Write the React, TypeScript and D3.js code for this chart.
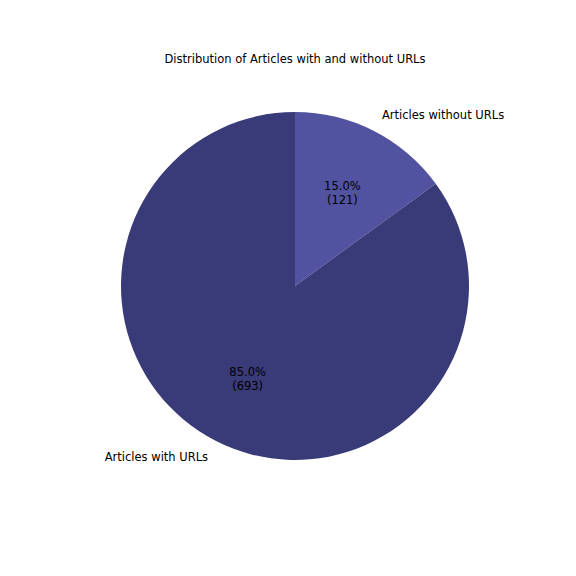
import * as d3 from 'd3';

const categories = ['Articles without URLs', 'Articles with URLs'];
const percents = [15.0, 85.0];
const counts = [121, 693];
const colors = ['#5152a0', '#393a78'];

export default function App() {
  const W = 576, H = 576;
  const cx = 295, cy = 286, r = 174;
  const pie = d3.pie<number>().sort(null).startAngle(0).endAngle(2 * Math.PI);
  const arcs = pie(percents);
  const arc = d3.arc<d3.PieArcDatum<number>>().innerRadius(0).outerRadius(r);
  const font = 'DejaVu Sans, sans-serif';

  return (
    <svg width={W} height={H} style={{ position: 'absolute', left: 0, top: 0, background: '#fff' }}>
      <text x={295} y={63} textAnchor="middle" fontSize={11.5} fontFamily={font}>
        Distribution of Articles with and without URLs
      </text>
      <g transform={`translate(${cx},${cy})`}>
        {arcs.map((a, i) => {
          const mid = (a.startAngle + a.endAngle) / 2;
          const sx = Math.sin(mid), sy = -Math.cos(mid);
          const pr = r * 0.6, lr = r * 1.1;
          return (
            <g key={i}>
              <path d={arc(a) || ''} fill={colors[i]} />
              <text x={sx * pr} y={sy * pr - 3} textAnchor="middle" fontSize={11.5} fontFamily={font}>
                <tspan x={sx * pr} dy={0}>{percents[i].toFixed(1)}%</tspan>
                <tspan x={sx * pr} dy={14}>({counts[i]})</tspan>
              </text>
              <text x={sx * lr} y={sy * lr + 4} textAnchor={sx > 0 ? 'start' : 'end'} fontSize={11.5} fontFamily={font}>
                {categories[i]}
              </text>
            </g>
          );
        })}
      </g>
    </svg>
  );
}
